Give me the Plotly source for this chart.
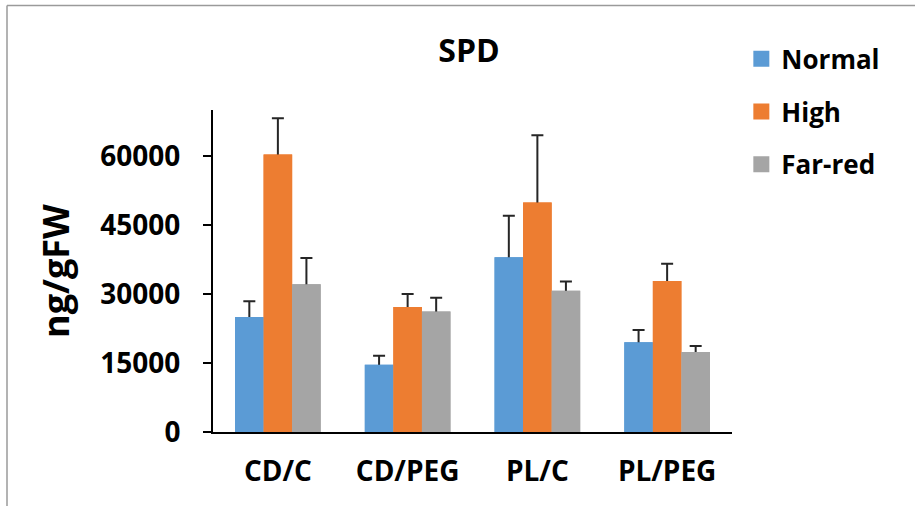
import plotly.graph_objects as go

categories = ["CD/C", "CD/PEG", "PL/C", "PL/PEG"]
series_names = ["Normal", "High", "Far-red"]
normal = [25000, 14600, 38000, 19500]
high = [60300, 27200, 49900, 32800]
far_red = [32100, 26200, 30700, 17400]
normal_err = [3400, 2000, 9000, 2700]
high_err = [7900, 2800, 14600, 3800]
far_red_err = [5700, 3000, 2000, 1300]
y_ticks = [0, 15000, 30000, 45000, 60000]

colors = ["#5B9BD5", "#ED7D31", "#A5A5A5"]
FONT = "Open Sans"
SHOE_HIDE = 500  # pushes the lower error cap inside the bar, where it is hidden

fig = go.Figure()
values = [normal, high, far_red]
errors = [normal_err, high_err, far_red_err]
# bars carrying the upper error bars
for name, vals, errs, col in zip(series_names, values, errors, colors):
    fig.add_trace(go.Bar(
        x=categories, y=vals, name=name, offsetgroup=name,
        marker=dict(color=col, line=dict(width=0)), showlegend=False,
        error_y=dict(type="data", array=errs, arrayminus=[SHOE_HIDE]*len(errs),
                     symmetric=False, color="#262626", thickness=2, width=6),
    ))
# same bars drawn again on top, hiding the lower half of each error bar
for name, vals, col in zip(series_names, values, colors):
    fig.add_trace(go.Bar(
        x=categories, y=vals, name=name, offsetgroup=name,
        marker=dict(color=col, line=dict(width=0)), showlegend=False,
        hoverinfo="skip",
    ))
# legend entries
for name, col in zip(series_names, colors):
    fig.add_trace(go.Scatter(
        x=[None], y=[None], mode="markers", name=f"<b>{name}</b>", legendgroup=name,
        marker=dict(symbol="square", size=16, color=col),
    ))

fig.update_layout(
    width=915, height=506,
    margin=dict(l=213, r=183, t=110, b=74, autoexpand=False),
    paper_bgcolor="white", plot_bgcolor="white",
    barmode="group", bargap=0.34, bargroupgap=0,
    font=dict(family=FONT, color="#000000"),
    title=dict(text="<b>SPD</b>", x=469/915, xref="container", xanchor="center",
               y=1 - 51/506, yref="container", yanchor="middle",
               font=dict(size=32, family=FONT, color="#000000")),
    legend=dict(x=1.018, xanchor="left", y=1.232, yanchor="top",
                font=dict(size=26, family=FONT, color="#000000"),
                tracegroupgap=16, itemsizing="trace",
                bgcolor="rgba(0,0,0,0)"),
    showlegend=True,
)
fig.update_xaxes(
    type="category", showgrid=False, showline=True, linecolor="#000000", linewidth=2,
    ticks="", tickfont=dict(size=28, family=FONT, color="#000000"),
    ticklabelstandoff=13, tickprefix="<b>", ticksuffix="</b>", automargin=False,
)
fig.update_yaxes(
    range=[0, 70000], tickvals=y_ticks, ticktext=[f"<b>{v}</b>" for v in y_ticks],
    showgrid=False, zeroline=False, showline=True, linecolor="#000000", linewidth=2,
    ticks="outside", ticklen=8, tickwidth=2, tickcolor="#000000",
    tickfont=dict(size=28, family=FONT, color="#000000"), ticklabelstandoff=17,
    title=dict(text="<b>ng/gFW</b>", font=dict(size=36, family=FONT, color="#000000"),
               standoff=20),
    automargin=False,
)
# outer frame (left and top edges visible)
fig.add_shape(type="line", xref="paper", yref="paper",
              x0=(7-213)/519, x1=(7-213)/519, y0=(432-506)/322, y1=(432-5.5)/322,
              line=dict(color="#9a9a9a", width=1.5))
fig.add_shape(type="line", xref="paper", yref="paper",
              x0=(7-213)/519, x1=(915-213)/519, y0=(432-5.5)/322, y1=(432-5.5)/322,
              line=dict(color="#9a9a9a", width=1.5))

fig.write_html("out.html", config={"displayModeBar": False},
               post_script="document.body.style.margin='0px';")
